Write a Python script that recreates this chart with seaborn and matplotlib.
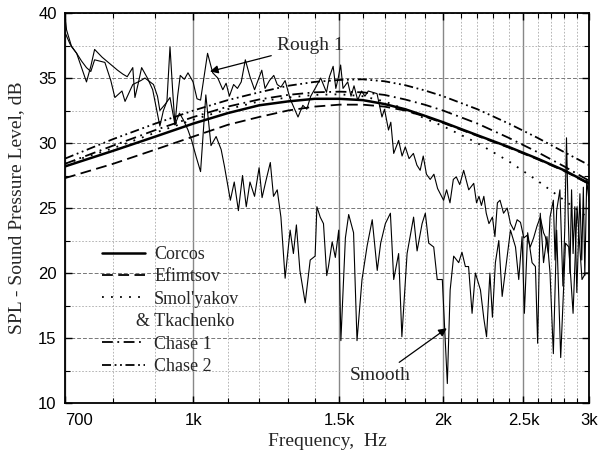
import pandas as pd
import seaborn as sns
import matplotlib.pyplot as plt
from matplotlib.ticker import FixedLocator, FixedFormatter, MultipleLocator, NullFormatter

# theoretical spectra (dB) at these frequencies (Hz)
theory_freq = [700, 800, 900, 1000, 1100, 1200, 1300, 1400, 1500, 1600,
               1700, 1800, 1900, 2000, 2200, 2400, 2600, 2800, 3000]
corcos = [28.2, 29.4, 30.5, 31.5, 32.3, 32.9, 33.2, 33.4, 33.4, 33.3,
          33.0, 32.6, 32.1, 31.6, 30.6, 29.7, 28.8, 27.9, 26.9]
efimtsov = [27.3, 28.4, 29.5, 30.5, 31.4, 32.0, 32.5, 32.8, 32.95, 32.95,
            32.8, 32.5, 32.05, 31.55, 30.55, 29.65, 28.75, 27.85, 26.85]
smolyakov = [28.4, 29.6, 30.8, 31.8, 32.6, 33.2, 33.5, 33.7, 33.75, 33.6,
             33.2, 32.6, 31.9, 31.3, 30.0, 28.6, 27.1, 25.6, 24.2]
chase1 = [28.4, 29.8, 31.0, 32.0, 32.8, 33.35, 33.7, 33.9, 33.95, 33.9,
          33.7, 33.35, 32.95, 32.5, 31.5, 30.4, 29.3, 28.2, 27.1]
chase2 = [28.8, 30.3, 31.5, 32.5, 33.3, 33.9, 34.4, 34.7, 34.85, 34.9,
          34.75, 34.45, 34.05, 33.6, 32.6, 31.5, 30.4, 29.3, 28.3]

# measured spectrum, rough wall
rough_freq = [700, 703, 713, 723, 733, 743, 752, 760, 776, 793, 810, 822, 832, 845, 850,
              858, 866, 880, 893, 900, 911, 920, 929, 937, 944, 950, 957, 964, 975, 985,
              999, 1010, 1020, 1040, 1055, 1070, 1085, 1095, 1105, 1118, 1130, 1142, 1155,
              1170, 1185, 1209, 1220, 1235, 1250, 1262, 1275, 1290, 1308, 1337, 1355, 1370,
              1385, 1405, 1424, 1447, 1459, 1474, 1485, 1495, 1505, 1515, 1535, 1549, 1562,
              1578, 1595, 1610, 1625, 1645, 1665, 1688, 1700, 1719, 1730, 1744, 1768, 1785,
              1801, 1820, 1842, 1860, 1877, 1893, 1910, 1930, 1950, 1970, 2003, 2020, 2039,
              2058, 2075, 2095, 2118, 2148, 2178, 2195, 2210, 2225, 2240, 2255, 2272, 2294,
              2310, 2326, 2343, 2366, 2390, 2412, 2435, 2457, 2480, 2503, 2525, 2548, 2572,
              2596, 2620, 2644, 2657, 2680, 2692, 2717, 2730, 2742, 2767, 2790, 2805, 2818,
              2831, 2845, 2858, 2870, 2884, 2900, 2925, 2940, 2953, 2965, 2981, 3000]
rough_spl = [39.9, 38.7, 37.4, 36.9, 35.8, 34.7, 35.9, 37.2, 36.6, 36.1, 35.6, 35.3, 35.1, 35.8, 33.5,
             34.6, 35.8, 35.0, 34.1, 33.0, 31.3, 32.5, 33.2, 37.4, 34.0, 31.4, 33.6, 35.2, 34.9, 35.4,
             34.7, 33.4, 33.3, 36.9, 35.4, 35.0, 34.1, 34.6, 33.6, 34.5, 34.2, 34.7, 36.4,
             35.1, 34.1, 35.6, 34.2, 34.8, 35.2, 34.5, 34.3, 34.8, 33.4, 32.0, 32.9, 32.6,
             33.6, 34.3, 35.0, 33.9, 35.1, 35.9, 34.2, 35.0, 36.0, 34.2, 34.7, 33.6, 34.4,
             33.3, 34.0, 33.6, 34.0, 33.9, 33.8, 32.0, 32.6, 31.0, 31.6, 29.2, 30.2, 29.0,
             29.7, 28.8, 29.2, 28.3, 27.9, 29.0, 27.6, 27.2, 27.6, 26.5, 25.6, 26.4, 25.4,
             27.2, 27.4, 26.8, 27.9, 26.4, 26.9, 25.4, 25.9, 25.2, 25.9, 24.6, 23.8, 24.3,
             22.8, 25.4, 25.6, 24.6, 25.0, 23.8, 23.3, 24.1, 23.9, 22.7, 22.9, 22.0, 22.7,
             23.6, 24.3, 23.1, 22.8, 21.5, 24.3, 25.6, 21.0, 24.8, 26.4, 19.0, 23.5, 30.4,
             24.6, 20.0, 26.4, 21.5, 25.1, 18.5, 26.1, 21.0, 26.6, 19.8, 27.2, 25.5]

# measured spectrum, smooth wall
smooth_freq = [700, 710, 723, 733, 743, 752, 760, 782, 795, 804, 820, 827, 845, 864, 874,
               895, 905, 911, 925, 937, 950, 962, 972, 985, 995, 1008, 1020, 1035, 1050, 1065,
               1080, 1090, 1097, 1108, 1120, 1133, 1146, 1158, 1170, 1185, 1200, 1210, 1222,
               1238, 1249, 1262, 1275, 1290, 1308, 1320, 1331, 1344, 1364, 1383, 1402, 1409,
               1422, 1435, 1448, 1455, 1470, 1483, 1497, 1506, 1525, 1539, 1560, 1575, 1597,
               1620, 1643, 1666, 1682, 1704, 1728, 1744, 1768, 1784, 1810, 1843, 1861, 1887,
               1904, 1922, 1949, 1968, 1996, 2024, 2040, 2060, 2089, 2108, 2128, 2147, 2168,
               2188, 2219, 2240, 2257, 2278, 2294, 2313, 2335, 2357, 2390, 2412, 2446, 2468,
               2491, 2507, 2530, 2561, 2585, 2601, 2620, 2644, 2669, 2692, 2717, 2742, 2773,
               2810, 2836, 2870, 2902, 2942, 2971, 3000]
smooth_spl = [38.5, 37.6, 36.9, 36.3, 35.8, 35.5, 36.4, 36.2, 34.8, 33.5, 34.0, 33.2, 34.5, 34.8, 35.0,
              34.5, 33.6, 32.5, 33.0, 33.5, 31.4, 32.3, 31.8, 31.0, 30.2, 28.9, 27.8, 33.7, 29.8, 30.5,
              29.5, 28.2, 27.2, 25.6, 27.0, 24.8, 27.5, 25.1, 27.0, 25.9, 28.1, 25.8, 27.0,
              28.5, 25.9, 26.4, 24.3, 19.6, 23.3, 21.5, 23.7, 20.2, 17.7, 21.0, 21.3, 25.1,
              24.3, 23.8, 19.8, 20.5, 22.4, 21.2, 23.3, 14.8, 22.7, 24.5, 23.1, 14.8, 19.5,
              22.1, 24.1, 20.2, 22.3, 23.8, 24.6, 19.5, 21.5, 15.1, 21.5, 24.3, 21.7, 23.8,
              24.6, 22.3, 22.0, 19.5, 19.5, 11.5, 18.7, 21.3, 20.8, 21.6, 20.5, 20.5, 16.9,
              20.0, 18.7, 16.5, 15.1, 20.0, 16.6, 20.8, 22.5, 18.2, 21.3, 23.3, 22.0, 19.5,
              22.8, 16.9, 23.1, 20.8, 20.5, 14.6, 24.6, 20.8, 22.8, 20.0, 13.8, 23.3, 13.5,
              22.3, 22.0, 16.9, 25.1, 19.5, 20.0, 20.0]

x_major = [700, 1000, 1500, 2000, 2500, 3000]
x_major_labels = ['700', '1k', '1.5k', '2k', '2.5k', '3k']
x_minor = [800, 900, 1100, 1200, 1300, 1400, 1600, 1700, 1800, 1900,
           2100, 2200, 2300, 2400, 2600, 2700, 2800, 2900]

sns.set_style('ticks')
plt.rcParams['font.family'] = ['Liberation Serif', 'DejaVu Serif']

fig, ax = plt.subplots(figsize=(5.98, 4.58), dpi=100)
fig.subplots_adjust(left=0.1087, right=0.985, bottom=0.12, top=0.9716)

# measured curves
sns.lineplot(x=rough_freq, y=rough_spl, ax=ax, color='k', linewidth=0.8,
             estimator=None, sort=False)
sns.lineplot(x=smooth_freq, y=smooth_spl, ax=ax, color='k', linewidth=0.8,
             estimator=None, sort=False)

# models
df = pd.DataFrame({'f': theory_freq, 'Corcos': corcos, 'Efimtsov': efimtsov,
                   "Smol'yakov": smolyakov, 'Chase 1': chase1, 'Chase 2': chase2})
styles = {'Corcos': ('-', 1.8),
          'Efimtsov': ((0, (6, 3)), 1.3),
          "Smol'yakov": ((0, (1, 4)), 1.3),
          'Chase 1': ((0, (6, 2.5, 1, 2.5)), 1.3),
          'Chase 2': ((0, (5, 2, 1, 2, 1, 2)), 1.3)}
model_lines = []
for name, (ls, lw) in styles.items():
    sns.lineplot(data=df, x='f', y=name, ax=ax, color='k', linewidth=lw,
                 linestyle=ls, label=name, estimator=None)
    model_lines.append(ax.lines[-1])

ax.set_xscale('log')
ax.set_xlim(700, 3000)
ax.set_ylim(10, 40)

ax.xaxis.set_major_locator(FixedLocator(x_major))
ax.xaxis.set_major_formatter(FixedFormatter(x_major_labels))
ax.xaxis.set_minor_locator(FixedLocator(x_minor))
ax.xaxis.set_minor_formatter(NullFormatter())
ax.yaxis.set_major_locator(MultipleLocator(5))
ax.yaxis.set_minor_locator(MultipleLocator(2.5))

ax.tick_params(which='both', direction='in', top=True, right=True, colors='k')
ax.tick_params(which='major', length=5, width=1, labelsize=12)
ax.tick_params(axis='x', which='major', pad=7)
ax.tick_params(axis='y', which='major', pad=6)
ax.tick_params(which='minor', length=3.5, width=0.8)
for lbl in ax.get_xticklabels() + ax.get_yticklabels():
    lbl.set_fontfamily(['Liberation Sans', 'DejaVu Sans'])
ax.get_xticklabels()[0].set_horizontalalignment('left')

ax.grid(which='major', axis='x', color='#888888', linewidth=1.0, linestyle='-')
ax.grid(which='minor', axis='x', color='#aaaaaa', linewidth=0.6, linestyle=(0, (2, 2)))
ax.grid(which='major', axis='y', color='#777777', linewidth=0.7, linestyle=(0, (4, 2)))
ax.grid(which='minor', axis='y', color='#aaaaaa', linewidth=0.6, linestyle=(0, (2, 2)))
ax.set_axisbelow(True)
for sp in ax.spines.values():
    sp.set_linewidth(1.3)
    sp.set_color('k')

ax.set_xlabel('Frequency,  Hz', fontsize=14, labelpad=4)
ax.set_ylabel('SPL - Sound Pressure Level, dB', fontsize=14, labelpad=9)

# legend; the second line of the Smol'yakov label sits in its own row, shifted left
blank = plt.Line2D([], [], color='none')
handles = model_lines[:3] + [blank] + model_lines[3:]
labels = ['Corcos', 'Efimtsov', "Smol'yakov", '& Tkachenko', 'Chase 1', 'Chase 2']
leg = ax.legend(handles, labels, loc='upper left', bbox_to_anchor=(0.07, 0.403),
                frameon=False, fontsize=13, handlelength=2.4, handletextpad=0.5,
                labelspacing=0.3, borderpad=0, borderaxespad=0)
leg.get_texts()[3].set_x(-18)

arrow = dict(arrowstyle='-|>', color='k', lw=0.9, mutation_scale=12, shrinkA=2, shrinkB=0)
ax.annotate('Rough 1', xy=(1047, 35.5), xytext=(1262, 37.5), fontsize=14,
            ha='left', va='center', arrowprops=arrow)
ax.annotate('Smooth', xy=(2021, 15.75), xytext=(1545, 12.1), fontsize=14,
            ha='left', va='center', arrowprops=arrow)

plt.savefig('out.png', dpi=100)
